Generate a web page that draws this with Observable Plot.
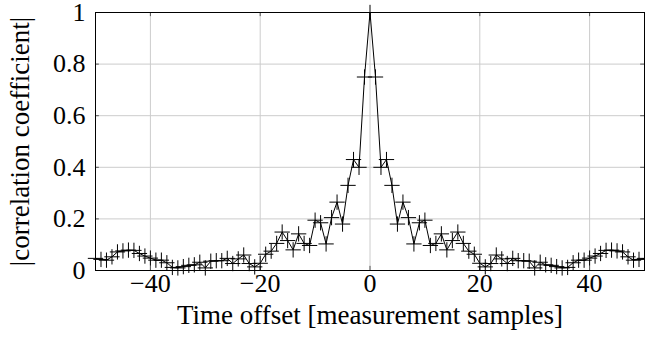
<!DOCTYPE html>
<html>
<head>
<meta charset="utf-8">
<script src="https://cdn.jsdelivr.net/npm/d3@7"></script>
<script src="https://cdn.jsdelivr.net/npm/@observablehq/plot@0.6"></script>
<style>
  html, body { margin: 0; padding: 0; background: #fff; }
  #chart svg { display: block; }
  #chart svg, #chart svg text { font-family: "Liberation Serif", "DejaVu Serif", serif !important; }
</style>
</head>
<body>
<div id="chart"></div>
<script>
// Time offsets (measurement samples)
const offsets = [
  -50,-49,-48,-47,-46,-45,-44,-43,-42,-41,
  -40,-39,-38,-37,-36,-35,-34,-33,-32,-31,
  -30,-29,-28,-27,-26,-25,-24,-23,-22,-21,
  -20,-19,-18,-17,-16,-15,-14,-13,-12,-11,
  -10,-9,-8,-7,-6,-5,-4,-3,-2,-1,
  0,
  1,2,3,4,5,6,7,8,9,10,
  11,12,13,14,15,16,17,18,19,20,
  21,22,23,24,25,26,27,28,29,30,
  31,32,33,34,35,36,37,38,39,40,
  41,42,43,44,45,46,47,48,49,50
];
// |correlation coefficient|
const corr = [
  0.047,0.043,0.040,0.053,0.072,0.076,0.079,0.078,0.066,0.056,
  0.048,0.040,0.040,0.030,0.012,0.010,0.015,0.020,0.022,0.032,
  0.010,0.036,0.038,0.038,0.047,0.027,0.045,0.060,0.027,0.014,
  0.028,0.063,0.075,0.105,0.149,0.116,0.080,0.142,0.105,0.097,
  0.195,0.185,0.103,0.205,0.265,0.180,0.330,0.430,0.400,0.750,
  1.000,
  0.750,0.400,0.430,0.330,0.180,0.265,0.205,0.103,0.185,0.195,
  0.097,0.105,0.142,0.080,0.116,0.149,0.105,0.075,0.063,0.028,
  0.014,0.027,0.060,0.045,0.027,0.047,0.038,0.038,0.036,0.010,
  0.032,0.022,0.020,0.015,0.010,0.012,0.030,0.040,0.040,0.048,
  0.056,0.066,0.078,0.079,0.076,0.072,0.053,0.040,0.043,0.047
];
const xTicks = [-40, -20, 0, 20, 40];
const yTicks = [0, 0.2, 0.4, 0.6, 0.8, 1];
const xLabel = "Time offset [measurement samples]";
const yLabel = "|correlation coefficient|";

const data = offsets.map((t, i) => ({t, c: corr[i]}));
const fmtX = d => (d < 0 ? "\u2212" + Math.abs(d) : String(d));
const fmtY = d => String(d);

const chart = Plot.plot({
  width: 645,
  height: 343,
  marginLeft: 95,
  marginRight: 1,
  marginTop: 12,
  marginBottom: 73,
  style: {background: "#fff", color: "#000"},
  x: {domain: [-50, 50]},
  y: {domain: [0, 1]},
  marks: [
    Plot.gridX(xTicks, {stroke: "#cccccc", strokeOpacity: 1}),
    Plot.gridY(yTicks, {stroke: "#cccccc", strokeOpacity: 1}),
    Plot.axisX(xTicks, {tickSize: 0, tickPadding: 3, fontSize: 26, tickFormat: fmtX, label: null}),
    Plot.axisY(yTicks, {tickSize: 0, tickPadding: 10, fontSize: 26, tickFormat: fmtY, label: null}),
    Plot.ruleX(xTicks, {y1: 0, y2: 0.016, stroke: "#555"}),
    Plot.ruleX(xTicks, {y1: 1, y2: 0.984, stroke: "#555"}),
    Plot.ruleY(yTicks, {x1: -50, x2: -49.3, stroke: "#555"}),
    Plot.ruleY(yTicks, {x1: 50, x2: 49.3, stroke: "#555"}),
    Plot.frame({stroke: "black", strokeWidth: 1}),
    Plot.line(data, {x: "t", y: "c", stroke: "black", strokeWidth: 1}),
    Plot.dot(data, {x: "t", y: "c", symbol: "plus", r: 5, stroke: "black", strokeWidth: 1}),
    Plot.text([xLabel], {frameAnchor: "bottom", dy: 53, fontSize: 27, fill: "black", textAnchor: "middle"}),
    Plot.text([yLabel], {frameAnchor: "left", rotate: -90, dx: -75, fontSize: 27, fill: "black", textAnchor: "middle"})
  ]
});
document.getElementById("chart").appendChild(chart);
</script>
</body>
</html>
